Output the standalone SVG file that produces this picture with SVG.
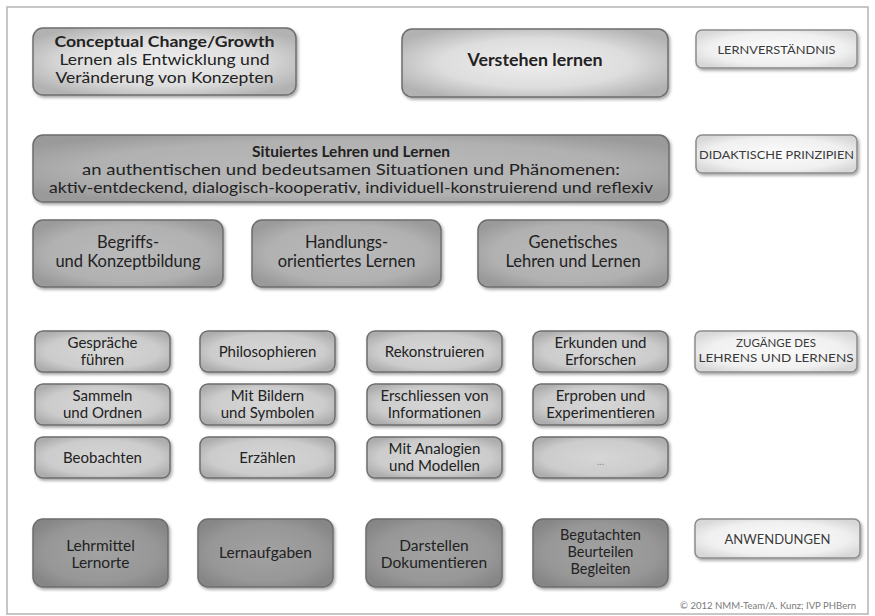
<svg xmlns="http://www.w3.org/2000/svg" width="875" height="616" viewBox="0 0 875 616">
<defs>
  <radialGradient id="gLight" cx="50%" cy="50%" r="60%">
    <stop offset="0" stop-color="#eeeeee"/><stop offset="0.6" stop-color="#dddddd"/><stop offset="1" stop-color="#b2b2b2"/>
  </radialGradient>
  <radialGradient id="gLabel" cx="50%" cy="50%" r="60%">
    <stop offset="0" stop-color="#fbfbfb"/><stop offset="0.7" stop-color="#f0f0f0"/><stop offset="1" stop-color="#d8d8d8"/>
  </radialGradient>
  <radialGradient id="gMid" cx="50%" cy="50%" r="60%">
    <stop offset="0" stop-color="#bababa"/><stop offset="0.7" stop-color="#b1b1b1"/><stop offset="1" stop-color="#9a9a9a"/>
  </radialGradient>
  <radialGradient id="gSmall" cx="50%" cy="50%" r="60%">
    <stop offset="0" stop-color="#d6d6d6"/><stop offset="0.7" stop-color="#cccccc"/><stop offset="1" stop-color="#adadad"/>
  </radialGradient>
  <radialGradient id="gDark" cx="50%" cy="50%" r="60%">
    <stop offset="0" stop-color="#a2a2a2"/><stop offset="0.7" stop-color="#979797"/><stop offset="1" stop-color="#868686"/>
  </radialGradient>
  <filter id="sh" x="-10%" y="-20%" width="125%" height="150%">
    <feDropShadow dx="1.5" dy="2" stdDeviation="1.5" flood-color="#000" flood-opacity="0.35"/>
  </filter>
  <style>
    .box{stroke:#6e6e6e;stroke-width:1.5;filter:url(#sh)}
    .lbl{stroke:#8c8c8c;stroke-width:1.5;fill:url(#gLabel);filter:url(#sh)}
    .light{fill:url(#gLight)}
    .mid{fill:url(#gMid)}
    .small{fill:url(#gSmall)}
    .dark{fill:url(#gDark)}
    text{font-family:"Lato","Open Sans","Liberation Sans",sans-serif;fill:#222222;text-anchor:middle}
    .b{font-weight:bold}
    .t16{font-size:16.5px}
    .tc{font-size:15px}
    .t15{font-size:15px}
    .tr{font-size:16.5px}
    .t14{font-size:15px}
    .te{font-size:15.5px}
    .te3{font-size:14.5px}
    .cap{font-size:12px;fill:#3a3a3a}
    .copy{font-size:9px;fill:#7a7a7a;text-anchor:end}
  </style>
</defs>
<rect x="0" y="0" width="875" height="616" fill="#ffffff"/>
<rect x="7" y="7" width="861" height="607" fill="#ffffff" stroke="#b4b4b4" stroke-width="1.5"/>
<g id="connectors"></g>

<g id="conceptual">
  <rect class="box light" x="33" y="28" width="263" height="67" rx="10"/>
  <text class="tc b" x="164.5" y="47" textLength="220" lengthAdjust="spacingAndGlyphs">Conceptual Change/Growth</text>
  <text class="tc" x="164.5" y="65" textLength="210" lengthAdjust="spacingAndGlyphs">Lernen als Entwicklung und</text>
  <text class="tc" x="164.5" y="83" textLength="218" lengthAdjust="spacingAndGlyphs">Veränderung von Konzepten</text>
</g>
<g id="verstehen">
  <rect class="box light" x="402" y="29" width="266" height="68" rx="10"/>
  <text class="t16 b" x="535" y="66" textLength="135" lengthAdjust="spacingAndGlyphs">Verstehen lernen</text>
</g>
<g id="lernverstaendnis">
  <rect class="lbl" x="696" y="30" width="161" height="38" rx="6"/>
  <text class="cap" x="776.5" y="54" textLength="118" lengthAdjust="spacingAndGlyphs">LERNVERSTÄNDNIS</text>
</g>

<g id="situiertes">
  <rect class="box mid" x="33" y="135" width="636" height="67" rx="10"/>
  <text class="t15 b" x="351" y="157" textLength="198" lengthAdjust="spacingAndGlyphs">Situiertes Lehren und Lernen</text>
  <text class="t15" x="351" y="175" textLength="538" lengthAdjust="spacingAndGlyphs">an authentischen und bedeutsamen Situationen und Phänomenen:</text>
  <text class="t15" x="351" y="193" textLength="604" lengthAdjust="spacingAndGlyphs">aktiv-entdeckend, dialogisch-kooperativ, individuell-konstruierend und reflexiv</text>
</g>
<g id="didaktische">
  <rect class="lbl" x="696" y="135" width="161" height="38" rx="6"/>
  <text class="cap" x="776.5" y="159" textLength="155" lengthAdjust="spacingAndGlyphs">DIDAKTISCHE PRINZIPIEN</text>
</g>

<g id="begriffs">
  <rect class="box mid" x="33" y="220" width="190" height="67" rx="10"/>
  <text class="tr" x="128" y="248">Begriffs-</text>
  <text class="tr" x="128" y="267">und Konzeptbildung</text>
</g>
<g id="handlungs">
  <rect class="box mid" x="252" y="220" width="189" height="67" rx="10"/>
  <text class="tr" x="346.5" y="248">Handlungs-</text>
  <text class="tr" x="346.5" y="267">orientiertes Lernen</text>
</g>
<g id="genetisches">
  <rect class="box mid" x="478" y="220" width="190" height="67" rx="10"/>
  <text class="tr" x="573" y="248">Genetisches</text>
  <text class="tr" x="573" y="267">Lehren und Lernen</text>
</g>

<g id="gespraeche">
  <rect class="box small" x="35" y="331" width="135" height="41" rx="8"/>
  <text class="t14" x="102.5" y="348">Gespräche</text>
  <text class="t14" x="102.5" y="365">führen</text>
</g>
<g id="philosophieren">
  <rect class="box small" x="200" y="331" width="135" height="41" rx="8"/>
  <text class="t14" x="267.5" y="357">Philosophieren</text>
</g>
<g id="rekonstruieren">
  <rect class="box small" x="367" y="331" width="135" height="41" rx="8"/>
  <text class="t14" x="434.5" y="357">Rekonstruieren</text>
</g>
<g id="erkunden">
  <rect class="box small" x="533" y="331" width="135" height="41" rx="8"/>
  <text class="t14" x="600.5" y="348">Erkunden und</text>
  <text class="t14" x="600.5" y="365">Erforschen</text>
</g>
<g id="zugaenge">
  <rect class="lbl" x="695" y="331" width="162" height="41" rx="6"/>
  <text class="cap" x="776" y="347" style="font-size:11.5px">ZUGÄNGE DES</text>
  <text class="cap" x="776" y="362" style="font-size:11.5px" textLength="155" lengthAdjust="spacingAndGlyphs">LEHRENS UND LERNENS</text>
</g>

<g id="sammeln">
  <rect class="box small" x="35" y="384" width="135" height="41" rx="8"/>
  <text class="t14" x="102.5" y="401">Sammeln</text>
  <text class="t14" x="102.5" y="418">und Ordnen</text>
</g>
<g id="bildern">
  <rect class="box small" x="200" y="384" width="135" height="41" rx="8"/>
  <text class="t14" x="267.5" y="401">Mit Bildern</text>
  <text class="t14" x="267.5" y="418">und Symbolen</text>
</g>
<g id="erschliessen">
  <rect class="box small" x="367" y="384" width="135" height="41" rx="8"/>
  <text class="t14" x="434.5" y="401">Erschliessen von</text>
  <text class="t14" x="434.5" y="418">Informationen</text>
</g>
<g id="erproben">
  <rect class="box small" x="533" y="384" width="135" height="41" rx="8"/>
  <text class="t14" x="600.5" y="401">Erproben und</text>
  <text class="t14" x="600.5" y="418">Experimentieren</text>
</g>

<g id="beobachten">
  <rect class="box small" x="35" y="437" width="135" height="41" rx="8"/>
  <text class="t14" x="102.5" y="463">Beobachten</text>
</g>
<g id="erzaehlen">
  <rect class="box small" x="200" y="437" width="135" height="41" rx="8"/>
  <text class="t14" x="267.5" y="463">Erzählen</text>
</g>
<g id="analogien">
  <rect class="box small" x="367" y="437" width="135" height="41" rx="8"/>
  <text class="t14" x="434.5" y="454">Mit Analogien</text>
  <text class="t14" x="434.5" y="471">und Modellen</text>
</g>
<g id="ellipsis">
  <rect class="box small" x="533" y="437" width="135" height="41" rx="8"/>
  <text x="600.5" y="465" style="font-size:10px;fill:#8a8a8a">...</text>
</g>

<g id="lehrmittel">
  <rect class="box dark" x="33" y="519" width="135" height="68" rx="10"/>
  <text class="te" x="100.5" y="551">Lehrmittel</text>
  <text class="te" x="100.5" y="568">Lernorte</text>
</g>
<g id="lernaufgaben">
  <rect class="box dark" x="198" y="519" width="135" height="68" rx="10"/>
  <text class="te" x="265.5" y="558">Lernaufgaben</text>
</g>
<g id="darstellen">
  <rect class="box dark" x="366" y="519" width="136" height="68" rx="10"/>
  <text class="te" x="434" y="551">Darstellen</text>
  <text class="te" x="434" y="568">Dokumentieren</text>
</g>
<g id="begutachten">
  <rect class="box dark" x="533" y="519" width="135" height="68" rx="10"/>
  <text class="te3" x="600.5" y="540">Begutachten</text>
  <text class="te3" x="600.5" y="557">Beurteilen</text>
  <text class="te3" x="600.5" y="574">Begleiten</text>
</g>
<g id="anwendungen">
  <rect class="lbl" x="695" y="519" width="165" height="39" rx="6"/>
  <text class="cap" x="777.5" y="544" style="font-size:13px">ANWENDUNGEN</text>
</g>

<text class="copy" x="856" y="609" textLength="176" lengthAdjust="spacingAndGlyphs">© 2012 NMM-Team/A. Kunz; IVP PHBern</text>
</svg>
